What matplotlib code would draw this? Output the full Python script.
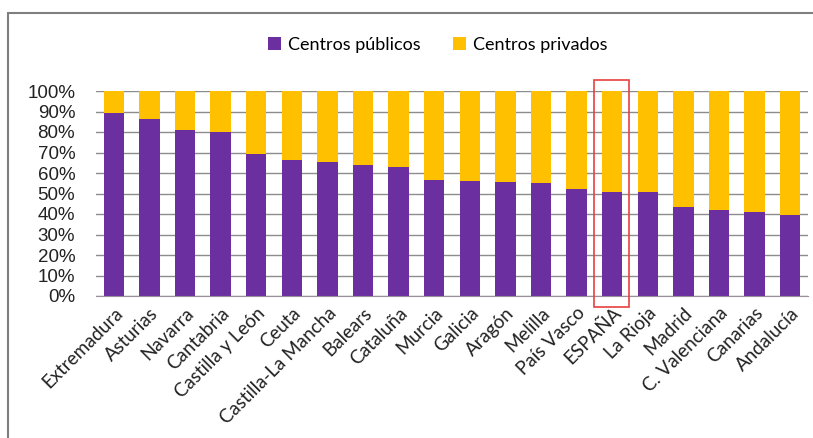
import matplotlib.pyplot as plt
from matplotlib.patches import Rectangle
import numpy as np

# Datos (porcentaje de alumnado por titularidad)
regiones = ['Extremadura', 'Asturias', 'Navarra', 'Cantabria', 'Castilla y León',
            'Ceuta', 'Castilla-La Mancha', 'Balears', 'Cataluña', 'Murcia',
            'Galicia', 'Aragón', 'Melilla', 'País Vasco', 'ESPAÑA', 'La Rioja',
            'Madrid', 'C. Valenciana', 'Canarias', 'Andalucía']
publicos = [89.4, 86.1, 81.2, 79.9, 69.5, 66.2, 65.4, 64.0, 62.8, 56.8,
            56.3, 55.5, 55.2, 52.2, 50.9, 50.9, 43.2, 42.1, 41.1, 39.3]
privados = [100 - v for v in publicos]

morado = '#6B2FA0'
amarillo = '#FFC000'

W, H = 813, 438
fig = plt.figure(figsize=(W / 100, H / 100), dpi=100)
ax = fig.add_axes([96 / W, 1 - 296 / H, (808 - 96) / W, (296 - 91) / H])

x = np.arange(len(regiones))
ax.bar(x, publicos, width=0.57, color=morado, label='Centros públicos', zorder=3)
ax.bar(x, privados, width=0.57, bottom=publicos, color=amarillo,
       label='Centros privados', zorder=3)

ax.set_xlim(-0.5, len(regiones) - 0.5)
ax.set_ylim(0, 100)
ax.set_yticks(range(0, 101, 10))
ax.set_yticklabels([f'{v}%' for v in range(0, 101, 10)],
                   fontfamily='Liberation Sans', fontsize=13.5, color='#222222')
ax.tick_params(axis='y', length=0, pad=15)
ax.yaxis.grid(True, color='#8c8c8c', linewidth=1, zorder=0)

ax.set_xticks(x)
ax.set_xticklabels(regiones, rotation=45, ha='right', rotation_mode='anchor',
                   fontfamily='Lato', fontsize=13.5, color='#222222')
ax.tick_params(axis='x', length=0, pad=6)

for s in ['top', 'right', 'left']:
    ax.spines[s].set_visible(False)
ax.spines['bottom'].set_color('#9a8f9a')
ax.spines['bottom'].set_zorder(4)

# Recuadro rojo sobre ESPAÑA
ax.add_patch(Rectangle((13.49, -5.4), 0.98, 111.0, fill=False,
                       edgecolor='#E8403F', linewidth=1.2, clip_on=False, zorder=5))

leg = fig.legend(loc='center', bbox_to_anchor=(438 / W, 1 - 45 / H), ncol=2,
                 frameon=False, prop={'family': 'Lato', 'size': 13},
                 handlelength=0.7, handleheight=0.7, handletextpad=0.4,
                 columnspacing=1.8)

# Marco exterior
fig.add_artist(Rectangle((8 / W, -0.05), 1.1, 1 - 13 / H + 0.05,
                         transform=fig.transFigure, fill=False,
                         edgecolor='#7f7f7f', linewidth=1.5))

fig.savefig('out.png', dpi=100)
